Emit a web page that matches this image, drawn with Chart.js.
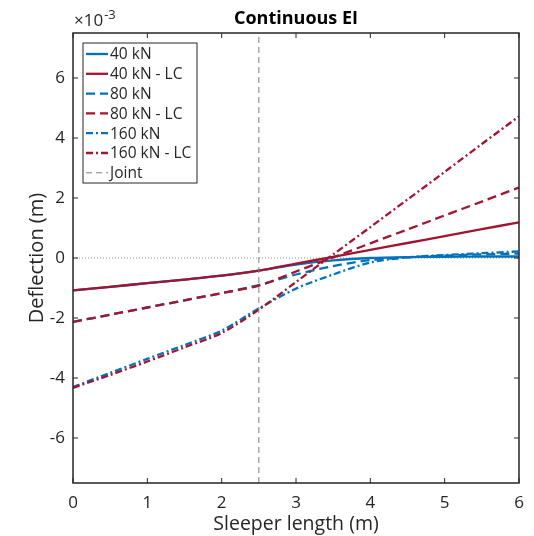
<!DOCTYPE html>
<html>
<head>
<meta charset="utf-8">
<script src="https://cdn.jsdelivr.net/npm/chart.js@4.4.1/dist/chart.umd.min.js"></script>
<style>
  html, body { margin: 0; padding: 0; background: #fff; }
</style>
</head>
<body>
<canvas id="c" width="534" height="536"></canvas>
<script>
// Data (deflection in units of 1e-3 m)
const xPos    = [0, 0.5, 1, 1.5, 2, 2.5, 3, 3.5, 4, 4.5, 5, 5.5, 6];
const kN40    = [-1.08, -0.96, -0.84, -0.72, -0.59, -0.42, -0.22, -0.08, 0.00, 0.03, 0.04, 0.05, 0.05];
const kN40LC  = [-1.08, -0.96, -0.84, -0.72, -0.59, -0.42, -0.19, 0.04, 0.27, 0.50, 0.73, 0.96, 1.19];
const kN80    = [-2.13, -1.89, -1.65, -1.41, -1.17, -0.90, -0.55, -0.27, -0.07, 0.02, 0.08, 0.12, 0.15];
const kN80LC  = [-2.13, -1.89, -1.65, -1.41, -1.17, -0.92, -0.45, 0.02, 0.49, 0.95, 1.42, 1.88, 2.35];
const kN160   = [-4.30, -3.83, -3.36, -2.90, -2.42, -1.68, -1.02, -0.55, -0.15, 0.02, 0.10, 0.16, 0.22];
const kN160LC = [-4.33, -3.90, -3.45, -2.98, -2.50, -1.72, -0.80, 0.12, 1.03, 1.95, 2.87, 3.80, 4.72];
const jointX  = [2.5, 2.5];
const jointY  = [-7.5, 7.5];
const xTicks  = [0, 1, 2, 3, 4, 5, 6];
const yTicks  = [-6, -4, -2, 0, 2, 4, 6];

const FONT = '"Open Sans", Lato, sans-serif';
const INK = '#262626';
const BLUE = '#0072BD';
const RED = '#A2142F';
const DASH = [9, 5];
const DASHDOT = [7, 3, 2, 3];

const pts = (xs, ys) => xs.map((x, i) => ({ x, y: ys[i] }));

const line = (label, ys, color, dash, i) => ({
    label,
    data: pts(xPos, ys),
    borderColor: color,
    borderWidth: 2.3,
    borderDash: dash,
    pointRadius: 0,
    tension: 0.3,
    order: 20 - i
});

const datasets = [
    line('40 kN', kN40, BLUE, [], 0),
    line('40 kN - LC', kN40LC, RED, [], 1),
    line('80 kN', kN80, BLUE, DASH, 2),
    line('80 kN - LC', kN80LC, RED, DASH, 3),
    line('160 kN', kN160, BLUE, DASHDOT, 4),
    line('160 kN - LC', kN160LC, RED, DASHDOT, 5),
    {
        label: 'Joint',
        data: pts(jointX, jointY),
        borderColor: '#7f7f7f',
        borderWidth: 1,
        borderDash: [6, 4],
        pointRadius: 0,
        order: 0
    }
];

// MATLAB-like axes box, inner ticks, legend, title, exponent
const matlabFrame = {
    id: 'matlabFrame',
    beforeDatasetsDraw(chart) {
        const { ctx, chartArea: a, scales: { y } } = chart;
        const y0 = y.getPixelForValue(0);
        ctx.save();
        ctx.strokeStyle = '#8c8c8c';
        ctx.lineWidth = 1;
        ctx.setLineDash([1, 2]);
        ctx.beginPath();
        ctx.moveTo(a.left, y0);
        ctx.lineTo(a.right, y0);
        ctx.stroke();
        ctx.restore();
    },
    afterDraw(chart) {
        const { ctx, chartArea: a, scales: { x, y } } = chart;
        ctx.save();
        ctx.strokeStyle = INK;
        ctx.lineWidth = 1.5;
        ctx.strokeRect(a.left, a.top, a.right - a.left, a.bottom - a.top);

        ctx.lineWidth = 1;
        ctx.beginPath();
        xTicks.forEach(v => {
            const px = x.getPixelForValue(v);
            ctx.moveTo(px, a.bottom); ctx.lineTo(px, a.bottom - 5);
            ctx.moveTo(px, a.top); ctx.lineTo(px, a.top + 5);
        });
        yTicks.forEach(v => {
            const py = y.getPixelForValue(v);
            ctx.moveTo(a.left, py); ctx.lineTo(a.left + 5, py);
            ctx.moveTo(a.right, py); ctx.lineTo(a.right - 5, py);
        });
        ctx.stroke();

        // Title
        ctx.fillStyle = '#000';
        ctx.font = 'bold 18px ' + FONT;
        ctx.textAlign = 'center';
        ctx.textBaseline = 'middle';
        ctx.fillText('Continuous EI', (a.left + a.right) / 2, 19);

        // Exponent
        ctx.fillStyle = INK;
        ctx.textAlign = 'left';
        ctx.textBaseline = 'alphabetic';
        ctx.font = '17px ' + FONT;
        ctx.fillText('\u00d710', 74, 26);
        const w = ctx.measureText('\u00d710').width;
        ctx.font = '13px ' + FONT;
        ctx.fillText('-3', 74 + w + 1, 19);

        // Legend
        const lx = 83, ly = 43, lw = 114, lh = 140;
        ctx.fillStyle = '#fff';
        ctx.fillRect(lx, ly, lw, lh);
        ctx.strokeStyle = INK;
        ctx.lineWidth = 1;
        ctx.strokeRect(lx, ly, lw, lh);
        ctx.font = '15.5px ' + FONT;
        ctx.textBaseline = 'middle';
        chart.data.datasets.forEach((ds, i) => {
            const cy = ly + 11 + i * 19.8;
            ctx.save();
            ctx.strokeStyle = ds.borderColor;
            ctx.lineWidth = ds.borderWidth;
            ctx.setLineDash(ds.borderDash || []);
            ctx.beginPath();
            ctx.moveTo(lx + 3, cy);
            ctx.lineTo(lx + 25, cy);
            ctx.stroke();
            ctx.restore();
            ctx.fillStyle = INK;
            ctx.fillText(ds.label, lx + 27, cy + 1);
        });
        ctx.restore();
    }
};

new Chart(document.getElementById('c'), {
    type: 'line',
    data: { datasets },
    options: {
        responsive: false,
        animation: false,
        layout: { padding: { left: 0, right: 15, top: 33, bottom: 0 } },
        plugins: { legend: { display: false }, tooltip: { enabled: false } },
        scales: {
            x: {
                type: 'linear',
                min: 0,
                max: 6,
                afterBuildTicks: s => { s.ticks = xTicks.map(v => ({ value: v })); },
                afterFit: s => { s.height = 53; },
                grid: { display: false, drawTicks: false },
                border: { display: false },
                ticks: { color: INK, font: { family: FONT, size: 17 }, padding: 10, maxRotation: 0 },
                title: {
                    display: true,
                    text: 'Sleeper length (m)',
                    color: INK,
                    font: { family: FONT, size: 19.5 },
                    padding: { top: 0, bottom: 0 }
                }
            },
            y: {
                type: 'linear',
                min: -7.5,
                max: 7.5,
                afterBuildTicks: s => { s.ticks = yTicks.map(v => ({ value: v })); },
                afterFit: s => { s.width = 73; },
                grid: { display: false, drawTicks: false },
                border: { display: false },
                ticks: { color: INK, font: { family: FONT, size: 17 }, padding: 8 },
                title: {
                    display: true,
                    text: 'Deflection (m)',
                    color: INK,
                    font: { family: FONT, size: 20 },
                    padding: { top: 25, bottom: 0 }
                }
            }
        }
    },
    plugins: [matlabFrame]
});
</script>
</body>
</html>
